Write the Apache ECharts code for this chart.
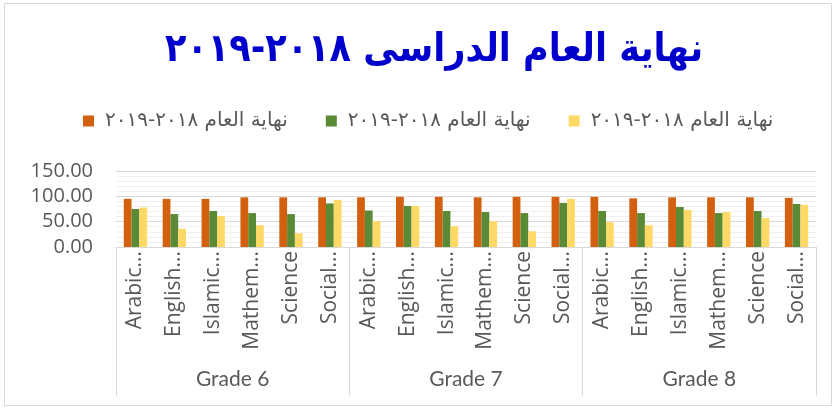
<!DOCTYPE html>
<html>
<head>
<meta charset="utf-8">
<script src="https://cdn.jsdelivr.net/npm/echarts@6/dist/echarts.min.js"></script>
<style>
  html, body { margin: 0; padding: 0; background: #fff; }
  #chart { width: 836px; height: 409px; }
</style>
</head>
<body>
<div id="chart"></div>
<script>
// subjects per grade (labels shown truncated like in the source chart)
const subjects = ['Arabic...', 'English...', 'Islamic...', 'Mathem...', 'Science', 'Social...'];
const grades = ['Grade 6', 'Grade 7', 'Grade 8'];
const categories = [];
grades.forEach(() => subjects.forEach(s => categories.push(s)));

const legendText = 'نهاية العام ٢٠١٨-٢٠١٩';
const titleText = 'نهاية العام الدراسى ٢٠١٨-٢٠١٩';

// values, grade 6 / 7 / 8
const orangeVals = [95, 95, 95, 98, 98, 98,   98, 99, 99, 98, 99, 99,   99, 96, 98, 98, 98, 97];
const greenVals  = [75, 65, 71, 67, 65, 86,   72, 81, 71, 69, 67, 87,   71, 67, 79, 67, 71, 85];
const yellowVals = [78, 36, 61, 43, 27, 93,   51, 81, 41, 51, 31, 95,   49, 43, 73, 69, 57, 83];

const seriesKeys = ['s1', 's2', 's3'];
const colors = ['#D2600F', '#5A8A36', '#FFD966'];

const chart = echarts.init(document.getElementById('chart'));

const option = {
    animation: false,
    color: colors,
    title: {
        text: titleText,
        left: 160,
        top: 26,
        textStyle: {
            color: '#0000CC',
            fontSize: 39,
            fontWeight: 'bold',
            fontFamily: 'DejaVu Sans Condensed'
        }
    },
    legend: {
        top: 106,
        left: 78,
        itemWidth: 11,
        itemHeight: 11,
        itemGap: 38,
        icon: 'rect',
        data: seriesKeys,
        formatter: () => legendText,
        textStyle: {
            color: '#595959',
            fontSize: 20,
            fontFamily: 'DejaVu Sans',
            padding: [0, 0, 0, 6]
        }
    },
    grid: {
        left: 116,
        right: 20,
        top: 171,
        bottom: 162,
        containLabel: false
    },
    xAxis: [{
        type: 'category',
        data: categories,
        position: 'bottom',
        axisLine: { show: true, lineStyle: { color: '#D9D9D9' } },
        axisTick: { show: false },
        axisLabel: {
            interval: 0,
            rotate: 90,
            margin: 4,
            color: '#595959',
            fontSize: 21,
            fontFamily: 'Open Sans'
        }
    }, {
        type: 'category',
        data: grades,
        position: 'bottom',
        axisLine: { show: false },
        axisTick: {
            show: true,
            length: 149,
            lineStyle: { color: '#D9D9D9' }
        },
        axisLabel: {
            margin: 122,
            color: '#595959',
            fontSize: 21,
            fontFamily: 'Lato'
        }
    }],
    yAxis: {
        type: 'value',
        min: 0,
        max: 150,
        interval: 50,
        axisLine: { show: false },
        axisTick: { show: false },
        axisLabel: {
            margin: 23,
            color: '#595959',
            fontSize: 20,
            fontFamily: 'Open Sans',
            formatter: v => v.toFixed(2)
        },
        splitLine: { lineStyle: { color: '#D9D9D9', width: 1 } },
        minorTick: { show: false, splitNumber: 5 },
        minorSplitLine: { show: true, lineStyle: { color: '#F0F0F0' } }
    },
    series: [
        { name: seriesKeys[0], type: 'bar', data: orangeVals, barGap: '0%', barCategoryGap: '40%' },
        { name: seriesKeys[1], type: 'bar', data: greenVals, barGap: '0%', barCategoryGap: '40%' },
        { name: seriesKeys[2], type: 'bar', data: yellowVals, barGap: '0%', barCategoryGap: '40%' }
    ],
    graphic: [{
        type: 'rect',
        shape: { x: 4.5, y: 3.5, width: 827, height: 402 },
        style: { fill: 'none', stroke: '#D9D9D9', lineWidth: 1 },
        silent: true
    }]
};

chart.setOption(option);
</script>
</body>
</html>
